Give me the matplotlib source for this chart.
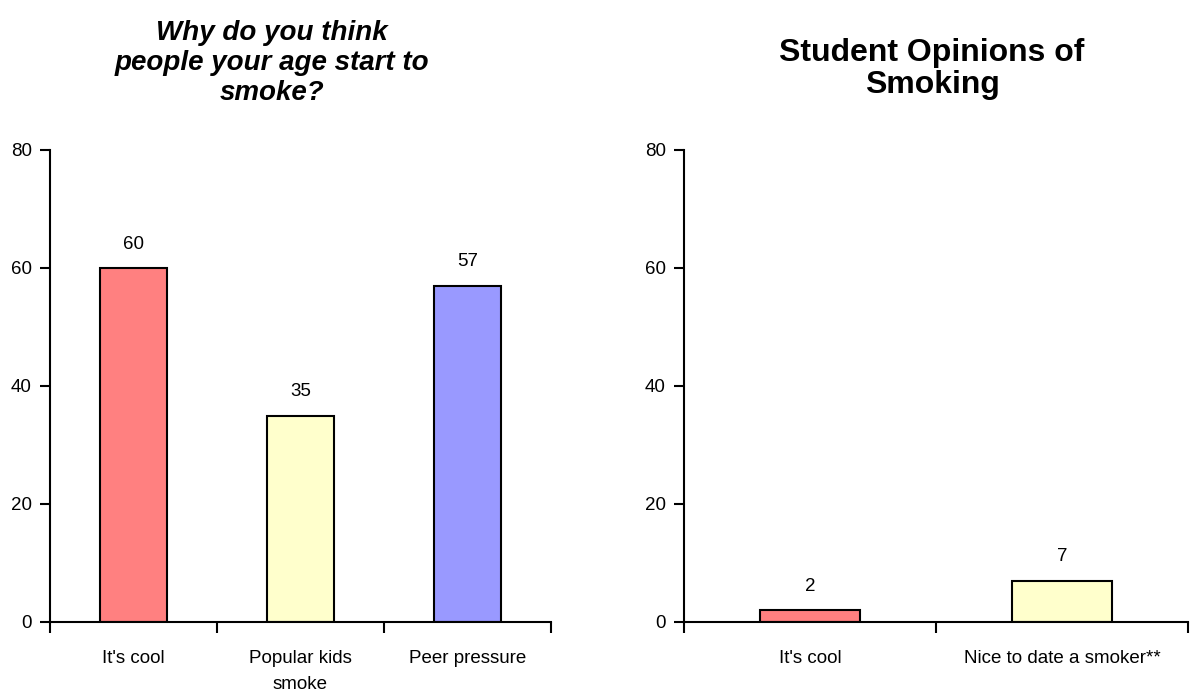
import matplotlib
matplotlib.use("Agg")
from matplotlib import pyplot as plt

plt.rcParams['font.family'] = ['Liberation Sans', 'DejaVu Sans']

# left chart
reasons = ["It's cool", "Popular kids\nsmoke", "Peer pressure"]
reason_vals = [60, 35, 57]
reason_colors = ['#FF8080', '#FFFFCC', '#9999FF']

# right chart
opinions = ["It's cool", "Nice to date a smoker**"]
opinion_vals = [2, 7]
opinion_colors = ['#FF8080', '#FFFFCC']

yticks = [0, 20, 40, 60, 80]

fig = plt.figure(figsize=(11.95, 6.96), dpi=100)
ax1 = fig.add_axes([50/1195, 74/696, 501/1195, 472/696])
ax2 = fig.add_axes([684/1195, 74/696, 504/1195, 472/696])

def draw(ax, cats, vals, colors):
    x = range(len(cats))
    ax.bar(x, vals, width=0.4, color=colors, edgecolor='black', linewidth=1.5)
    for xi, v in zip(x, vals):
        ax.text(xi, v + 2.6, str(v), ha='center', va='bottom', fontsize=13.5)
    ax.set_xlim(-0.5, len(cats) - 0.5)
    ax.set_ylim(0, 80)
    ax.set_yticks(yticks)
    ax.tick_params(axis='y', direction='out', length=7, width=1.5, labelsize=13.5, pad=6)
    # category labels sit between boundary ticks
    ax.set_xticks([i - 0.5 for i in range(len(cats) + 1)])
    ax.set_xticklabels([])
    ax.set_xticks(list(x), minor=True)
    ax.set_xticklabels(cats, minor=True, fontsize=13.5, linespacing=1.7)
    ax.tick_params(axis='x', which='major', direction='out', length=8, width=1.5)
    ax.tick_params(axis='x', which='minor', length=0, pad=20)
    for s in ['top', 'right']:
        ax.spines[s].set_visible(False)
    for s in ['left', 'bottom']:
        ax.spines[s].set_linewidth(1.5)

draw(ax1, reasons, reason_vals, reason_colors)
draw(ax2, opinions, opinion_vals, opinion_colors)

fig.text(272/1195, 1 - 63/696, "Why do you think\npeople your age start to\nsmoke?",
         ha='center', va='center', fontsize=20, fontweight='bold', fontstyle='italic',
         linespacing=1.2)
fig.text(932/1195, 1 - 69/696, "Student Opinions of\nSmoking",
         ha='center', va='center', fontsize=23, fontweight='bold',
         linespacing=1.1)

fig.savefig('out.png', dpi=100)
